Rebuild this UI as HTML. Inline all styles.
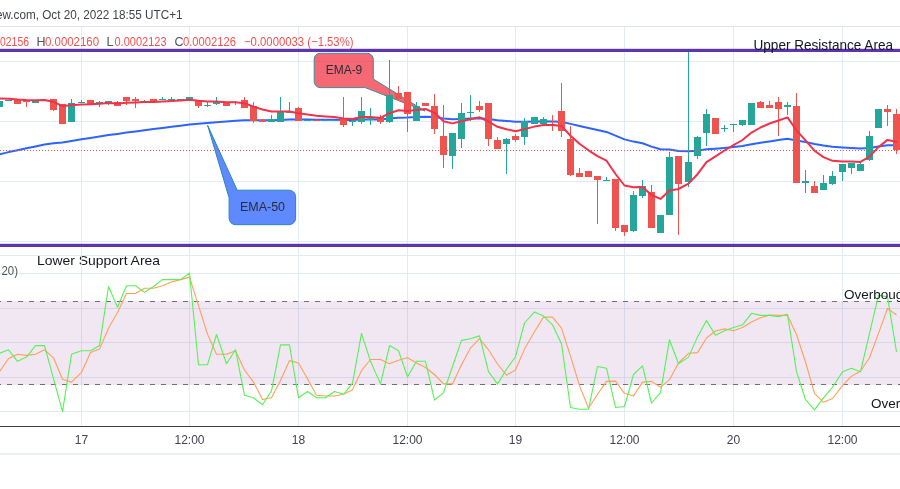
<!DOCTYPE html><html><head><meta charset="utf-8"><title>chart</title>
<style>html,body{margin:0;padding:0;background:#fff;overflow:hidden}svg{display:block}text{font-family:"Liberation Sans",sans-serif;}</style></head><body>
<svg width="900" height="489" viewBox="0 0 900 489">
<rect width="900" height="489" fill="#ffffff"/>
<rect x="0" y="26" width="900" height="1" fill="#e0e3eb"/>
<rect x="81" y="27" width="1" height="399" fill="#e1ecf2"/>
<rect x="189" y="27" width="1" height="399" fill="#e1ecf2"/>
<rect x="298" y="27" width="1" height="399" fill="#e1ecf2"/>
<rect x="407" y="27" width="1" height="399" fill="#e1ecf2"/>
<rect x="515" y="27" width="1" height="399" fill="#e1ecf2"/>
<rect x="624" y="27" width="1" height="399" fill="#e1ecf2"/>
<rect x="733" y="27" width="1" height="399" fill="#e1ecf2"/>
<rect x="842" y="27" width="1" height="399" fill="#e1ecf2"/>
<rect x="0" y="61" width="900" height="1" fill="#e1ecf2"/>
<rect x="0" y="121" width="900" height="1" fill="#e1ecf2"/>
<rect x="0" y="181" width="900" height="1" fill="#e1ecf2"/>
<rect x="0" y="241" width="900" height="1" fill="#e1ecf2"/>
<rect x="0" y="255" width="900" height="1" fill="#e1ecf2"/>
<rect x="0" y="273" width="900" height="1" fill="#e1ecf2"/>
<rect x="0" y="308" width="900" height="1" fill="#e1ecf2"/>
<rect x="0" y="342" width="900" height="1" fill="#e1ecf2"/>
<rect x="0" y="377" width="900" height="1" fill="#e1ecf2"/>
<rect x="0" y="411" width="900" height="1" fill="#e1ecf2"/>
<rect x="0" y="301" width="900" height="84" fill="#7e2f96" fill-opacity="0.115"/>
<line x1="0" y1="301.5" x2="900" y2="301.5" stroke="#707070" stroke-width="1.2" stroke-dasharray="5 6" stroke-dashoffset="4"/>
<line x1="0" y1="384.5" x2="900" y2="384.5" stroke="#707070" stroke-width="1.2" stroke-dasharray="5 6" stroke-dashoffset="4"/>
<path d="M-0.5,154.3 L8.5,152.1 L17.5,150.2 L26.5,148.3 L35.5,146.5 L44.5,144.6 L53.5,143.2 L62.5,142.4 L71.5,140.9 L81.5,139.3 L90.5,137.9 L99.5,136.5 L108.5,135.1 L117.5,133.9 L126.5,132.6 L135.5,131.4 L144.5,130.2 L153.5,129.1 L162.5,127.9 L171.5,126.8 L180.5,125.7 L189.5,124.5 L198.5,123.8 L207.5,123.0 L216.5,122.2 L226.5,121.5 L235.5,120.8 L244.5,120.3 L253.5,120.3 L262.5,120.3 L271.5,120.3 L280.5,119.9 L289.5,119.6 L298.5,119.6 L307.5,119.6 L316.5,119.7 L325.5,119.7 L334.5,119.7 L343.5,119.9 L352.5,119.9 L361.5,119.5 L370.5,119.4 L380.5,119.5 L389.5,118.5 L398.5,117.7 L407.5,117.6 L416.5,117.1 L425.5,116.7 L434.5,117.1 L443.5,118.6 L452.5,119.2 L461.5,118.9 L470.5,118.6 L479.5,118.3 L488.5,119.1 L497.5,120.2 L506.5,121.0 L515.5,121.7 L524.5,121.7 L534.5,121.5 L543.5,121.3 L552.5,121.5 L561.5,121.8 L570.5,123.9 L579.5,126.0 L588.5,127.9 L597.5,130.0 L606.5,131.9 L615.5,135.7 L624.5,139.4 L633.5,141.6 L642.5,143.3 L651.5,146.6 L660.5,149.3 L669.5,149.6 L678.5,150.9 L688.5,151.3 L697.5,150.8 L706.5,149.3 L715.5,148.7 L724.5,147.9 L733.5,146.9 L742.5,145.9 L751.5,144.2 L760.5,142.7 L769.5,141.4 L778.5,140.1 L787.5,138.7 L796.5,140.4 L805.5,142.0 L814.5,144.0 L823.5,145.5 L832.5,146.7 L842.5,147.4 L851.5,147.9 L860.5,148.6 L869.5,148.1 L878.5,146.5 L887.5,145.2 L896.5,145.3" fill="none" stroke="#2f63ff" stroke-width="2" stroke-linejoin="round" stroke-linecap="round"/>
<path d="M320.2,53.3 H367.3 a6,6 0 0 1 6,6 V79 L425,111 L365.2,87.6 H320.2 a6,6 0 0 1 -6,-6 V59.3 a6,6 0 0 1 6,-6 Z" fill="#f23645" fill-opacity="0.75" stroke="#3d8e9c" stroke-width="1"/>
<path d="M237.2,190.2 H289.1 a6.5,6.5 0 0 1 6.5,6.5 V218.2 a6.5,6.5 0 0 1 -6.5,6.5 H235.6 a6.5,6.5 0 0 1 -6.5,-6.5 V197.8 L207.6,125.3 Z" fill="#2962ff" fill-opacity="0.75" stroke="#2a86b8" stroke-width="1"/>
<rect x="-1" y="101" width="1" height="6" fill="#26a69a"/>
<rect x="-4" y="101" width="7" height="6" fill="#26a69a"/>
<rect x="8" y="100" width="1" height="1" fill="#26a69a"/>
<rect x="5" y="100" width="7" height="1" fill="#26a69a"/>
<rect x="17" y="100" width="1" height="4" fill="#ef5350"/>
<rect x="14" y="100" width="7" height="4" fill="#ef5350"/>
<rect x="26" y="100" width="1" height="7" fill="#ef5350"/>
<rect x="23" y="100" width="7" height="2" fill="#ef5350"/>
<rect x="35" y="101" width="1" height="2" fill="#26a69a"/>
<rect x="32" y="101" width="7" height="2" fill="#26a69a"/>
<rect x="44" y="100" width="1" height="1" fill="#26a69a"/>
<rect x="41" y="100" width="7" height="1" fill="#26a69a"/>
<rect x="53" y="99" width="1" height="12" fill="#ef5350"/>
<rect x="50" y="99" width="7" height="11" fill="#ef5350"/>
<rect x="62" y="104" width="1" height="20" fill="#ef5350"/>
<rect x="59" y="104" width="7" height="20" fill="#ef5350"/>
<rect x="71" y="99" width="1" height="23" fill="#26a69a"/>
<rect x="68" y="103" width="7" height="19" fill="#26a69a"/>
<rect x="81" y="100" width="1" height="3" fill="#26a69a"/>
<rect x="78" y="102" width="7" height="1" fill="#26a69a"/>
<rect x="90" y="100" width="1" height="4" fill="#ef5350"/>
<rect x="87" y="100" width="7" height="4" fill="#ef5350"/>
<rect x="99" y="101" width="1" height="6" fill="#26a69a"/>
<rect x="96" y="102" width="7" height="1" fill="#26a69a"/>
<rect x="108" y="101" width="1" height="4" fill="#26a69a"/>
<rect x="105" y="101" width="7" height="2" fill="#26a69a"/>
<rect x="117" y="101" width="1" height="5" fill="#ef5350"/>
<rect x="114" y="102" width="7" height="4" fill="#ef5350"/>
<rect x="126" y="97" width="1" height="8" fill="#ef5350"/>
<rect x="123" y="97" width="7" height="4" fill="#ef5350"/>
<rect x="135" y="97" width="1" height="11" fill="#ef5350"/>
<rect x="132" y="99" width="7" height="2" fill="#ef5350"/>
<rect x="144" y="100" width="1" height="2" fill="#26a69a"/>
<rect x="141" y="101" width="7" height="1" fill="#26a69a"/>
<rect x="153" y="99" width="1" height="3" fill="#ef5350"/>
<rect x="150" y="99" width="7" height="3" fill="#ef5350"/>
<rect x="162" y="97" width="1" height="3" fill="#26a69a"/>
<rect x="159" y="99" width="7" height="1" fill="#26a69a"/>
<rect x="171" y="97" width="1" height="3" fill="#26a69a"/>
<rect x="168" y="99" width="7" height="1" fill="#26a69a"/>
<rect x="180" y="99" width="1" height="1" fill="#26a69a"/>
<rect x="177" y="99" width="7" height="1" fill="#26a69a"/>
<rect x="189" y="97" width="1" height="2" fill="#26a69a"/>
<rect x="186" y="97" width="7" height="2" fill="#26a69a"/>
<rect x="198" y="100" width="1" height="8" fill="#ef5350"/>
<rect x="195" y="100" width="7" height="6" fill="#ef5350"/>
<rect x="207" y="102" width="1" height="5" fill="#26a69a"/>
<rect x="204" y="105" width="7" height="1" fill="#26a69a"/>
<rect x="216" y="97" width="1" height="8" fill="#26a69a"/>
<rect x="213" y="102" width="7" height="2" fill="#26a69a"/>
<rect x="226" y="102" width="1" height="4" fill="#ef5350"/>
<rect x="223" y="102" width="7" height="4" fill="#ef5350"/>
<rect x="235" y="101" width="1" height="4" fill="#26a69a"/>
<rect x="232" y="102" width="7" height="1" fill="#26a69a"/>
<rect x="244" y="97" width="1" height="11" fill="#ef5350"/>
<rect x="241" y="100" width="7" height="8" fill="#ef5350"/>
<rect x="253" y="102" width="1" height="21" fill="#ef5350"/>
<rect x="250" y="106" width="7" height="15" fill="#ef5350"/>
<rect x="262" y="119" width="1" height="3" fill="#ef5350"/>
<rect x="259" y="120" width="7" height="2" fill="#ef5350"/>
<rect x="271" y="115" width="1" height="7" fill="#26a69a"/>
<rect x="268" y="119" width="7" height="3" fill="#26a69a"/>
<rect x="280" y="97" width="1" height="25" fill="#26a69a"/>
<rect x="277" y="112" width="7" height="10" fill="#26a69a"/>
<rect x="289" y="102" width="1" height="11" fill="#26a69a"/>
<rect x="286" y="112" width="7" height="1" fill="#26a69a"/>
<rect x="298" y="107" width="1" height="14" fill="#ef5350"/>
<rect x="295" y="108" width="7" height="13" fill="#ef5350"/>
<rect x="307" y="120" width="1" height="1" fill="#26a69a"/>
<rect x="304" y="120" width="7" height="1" fill="#26a69a"/>
<rect x="316" y="119" width="1" height="2" fill="#ef5350"/>
<rect x="313" y="120" width="7" height="1" fill="#ef5350"/>
<rect x="325" y="119" width="1" height="2" fill="#26a69a"/>
<rect x="322" y="120" width="7" height="1" fill="#26a69a"/>
<rect x="334" y="120" width="1" height="1" fill="#26a69a"/>
<rect x="331" y="120" width="7" height="1" fill="#26a69a"/>
<rect x="343" y="97" width="1" height="30" fill="#ef5350"/>
<rect x="340" y="118" width="7" height="7" fill="#ef5350"/>
<rect x="352" y="120" width="1" height="6" fill="#26a69a"/>
<rect x="349" y="121" width="7" height="1" fill="#26a69a"/>
<rect x="361" y="97" width="1" height="27" fill="#26a69a"/>
<rect x="358" y="111" width="7" height="11" fill="#26a69a"/>
<rect x="370" y="108" width="1" height="17" fill="#26a69a"/>
<rect x="367" y="117" width="7" height="3" fill="#26a69a"/>
<rect x="380" y="115" width="1" height="9" fill="#ef5350"/>
<rect x="377" y="117" width="7" height="5" fill="#ef5350"/>
<rect x="389" y="60" width="1" height="63" fill="#26a69a"/>
<rect x="386" y="95" width="7" height="27" fill="#26a69a"/>
<rect x="398" y="86" width="1" height="15" fill="#ef5350"/>
<rect x="395" y="93" width="7" height="6" fill="#ef5350"/>
<rect x="407" y="92" width="1" height="40" fill="#ef5350"/>
<rect x="404" y="92" width="7" height="22" fill="#ef5350"/>
<rect x="416" y="102" width="1" height="19" fill="#26a69a"/>
<rect x="413" y="106" width="7" height="15" fill="#26a69a"/>
<rect x="425" y="103" width="1" height="3" fill="#ef5350"/>
<rect x="422" y="103" width="7" height="3" fill="#ef5350"/>
<rect x="434" y="94" width="1" height="40" fill="#ef5350"/>
<rect x="431" y="106" width="7" height="23" fill="#ef5350"/>
<rect x="443" y="105" width="1" height="63" fill="#ef5350"/>
<rect x="440" y="136" width="7" height="19" fill="#ef5350"/>
<rect x="452" y="133" width="1" height="36" fill="#26a69a"/>
<rect x="449" y="133" width="7" height="23" fill="#26a69a"/>
<rect x="461" y="103" width="1" height="45" fill="#26a69a"/>
<rect x="458" y="113" width="7" height="26" fill="#26a69a"/>
<rect x="470" y="95" width="1" height="26" fill="#26a69a"/>
<rect x="467" y="112" width="7" height="1" fill="#26a69a"/>
<rect x="479" y="101" width="1" height="11" fill="#ef5350"/>
<rect x="476" y="106" width="7" height="4" fill="#ef5350"/>
<rect x="488" y="103" width="1" height="43" fill="#ef5350"/>
<rect x="485" y="103" width="7" height="36" fill="#ef5350"/>
<rect x="497" y="137" width="1" height="12" fill="#ef5350"/>
<rect x="494" y="140" width="7" height="9" fill="#ef5350"/>
<rect x="506" y="138" width="1" height="36" fill="#26a69a"/>
<rect x="503" y="139" width="7" height="5" fill="#26a69a"/>
<rect x="515" y="134" width="1" height="8" fill="#ef5350"/>
<rect x="512" y="136" width="7" height="4" fill="#ef5350"/>
<rect x="524" y="118" width="1" height="27" fill="#26a69a"/>
<rect x="521" y="121" width="7" height="16" fill="#26a69a"/>
<rect x="534" y="117" width="1" height="7" fill="#26a69a"/>
<rect x="531" y="117" width="7" height="7" fill="#26a69a"/>
<rect x="543" y="117" width="1" height="7" fill="#26a69a"/>
<rect x="540" y="119" width="7" height="5" fill="#26a69a"/>
<rect x="552" y="115" width="1" height="16" fill="#ef5350"/>
<rect x="549" y="124" width="7" height="1" fill="#ef5350"/>
<rect x="561" y="83" width="1" height="54" fill="#ef5350"/>
<rect x="558" y="111" width="7" height="20" fill="#ef5350"/>
<rect x="570" y="126" width="1" height="50" fill="#ef5350"/>
<rect x="567" y="139" width="7" height="36" fill="#ef5350"/>
<rect x="579" y="168" width="1" height="9" fill="#ef5350"/>
<rect x="576" y="173" width="7" height="4" fill="#ef5350"/>
<rect x="588" y="171" width="1" height="6" fill="#ef5350"/>
<rect x="585" y="171" width="7" height="6" fill="#ef5350"/>
<rect x="597" y="176" width="1" height="48" fill="#ef5350"/>
<rect x="594" y="176" width="7" height="4" fill="#ef5350"/>
<rect x="606" y="177" width="1" height="4" fill="#26a69a"/>
<rect x="603" y="180" width="7" height="1" fill="#26a69a"/>
<rect x="615" y="179" width="1" height="52" fill="#ef5350"/>
<rect x="612" y="179" width="7" height="49" fill="#ef5350"/>
<rect x="624" y="225" width="1" height="11" fill="#ef5350"/>
<rect x="621" y="225" width="7" height="7" fill="#ef5350"/>
<rect x="633" y="191" width="1" height="41" fill="#26a69a"/>
<rect x="630" y="195" width="7" height="36" fill="#26a69a"/>
<rect x="642" y="180" width="1" height="18" fill="#26a69a"/>
<rect x="639" y="186" width="7" height="10" fill="#26a69a"/>
<rect x="651" y="185" width="1" height="43" fill="#ef5350"/>
<rect x="648" y="192" width="7" height="36" fill="#ef5350"/>
<rect x="660" y="215" width="1" height="18" fill="#26a69a"/>
<rect x="657" y="215" width="7" height="18" fill="#26a69a"/>
<rect x="669" y="152" width="1" height="63" fill="#26a69a"/>
<rect x="666" y="157" width="7" height="58" fill="#26a69a"/>
<rect x="678" y="156" width="1" height="79" fill="#ef5350"/>
<rect x="675" y="156" width="7" height="28" fill="#ef5350"/>
<rect x="688" y="50" width="1" height="137" fill="#26a69a"/>
<rect x="685" y="162" width="7" height="20" fill="#26a69a"/>
<rect x="697" y="136" width="1" height="23" fill="#26a69a"/>
<rect x="694" y="137" width="7" height="19" fill="#26a69a"/>
<rect x="706" y="109" width="1" height="37" fill="#26a69a"/>
<rect x="703" y="114" width="7" height="19" fill="#26a69a"/>
<rect x="715" y="118" width="1" height="16" fill="#ef5350"/>
<rect x="712" y="118" width="7" height="16" fill="#ef5350"/>
<rect x="724" y="125" width="1" height="7" fill="#26a69a"/>
<rect x="721" y="128" width="7" height="1" fill="#26a69a"/>
<rect x="733" y="124" width="1" height="8" fill="#26a69a"/>
<rect x="730" y="124" width="7" height="1" fill="#26a69a"/>
<rect x="742" y="120" width="1" height="6" fill="#26a69a"/>
<rect x="739" y="120" width="7" height="5" fill="#26a69a"/>
<rect x="751" y="103" width="1" height="22" fill="#26a69a"/>
<rect x="748" y="103" width="7" height="22" fill="#26a69a"/>
<rect x="760" y="101" width="1" height="7" fill="#ef5350"/>
<rect x="757" y="102" width="7" height="6" fill="#ef5350"/>
<rect x="769" y="101" width="1" height="7" fill="#ef5350"/>
<rect x="766" y="105" width="7" height="3" fill="#ef5350"/>
<rect x="778" y="97" width="1" height="39" fill="#ef5350"/>
<rect x="775" y="102" width="7" height="7" fill="#ef5350"/>
<rect x="787" y="102" width="1" height="13" fill="#26a69a"/>
<rect x="784" y="105" width="7" height="2" fill="#26a69a"/>
<rect x="796" y="93" width="1" height="90" fill="#ef5350"/>
<rect x="793" y="106" width="7" height="77" fill="#ef5350"/>
<rect x="805" y="170" width="1" height="23" fill="#26a69a"/>
<rect x="802" y="181" width="7" height="2" fill="#26a69a"/>
<rect x="814" y="181" width="1" height="12" fill="#ef5350"/>
<rect x="811" y="186" width="7" height="7" fill="#ef5350"/>
<rect x="823" y="175" width="1" height="15" fill="#26a69a"/>
<rect x="820" y="183" width="7" height="7" fill="#26a69a"/>
<rect x="832" y="171" width="1" height="14" fill="#26a69a"/>
<rect x="829" y="176" width="7" height="8" fill="#26a69a"/>
<rect x="842" y="164" width="1" height="17" fill="#26a69a"/>
<rect x="839" y="164" width="7" height="8" fill="#26a69a"/>
<rect x="851" y="163" width="1" height="11" fill="#26a69a"/>
<rect x="848" y="163" width="7" height="5" fill="#26a69a"/>
<rect x="860" y="162" width="1" height="9" fill="#26a69a"/>
<rect x="857" y="164" width="7" height="7" fill="#26a69a"/>
<rect x="869" y="131" width="1" height="30" fill="#26a69a"/>
<rect x="866" y="136" width="7" height="24" fill="#26a69a"/>
<rect x="878" y="109" width="1" height="19" fill="#26a69a"/>
<rect x="875" y="109" width="7" height="19" fill="#26a69a"/>
<rect x="887" y="105" width="1" height="21" fill="#ef5350"/>
<rect x="884" y="109" width="7" height="3" fill="#ef5350"/>
<rect x="896" y="109" width="1" height="45" fill="#ef5350"/>
<rect x="893" y="114" width="7" height="36" fill="#ef5350"/>
<line x1="0" y1="150.5" x2="900" y2="150.5" stroke="#ef5350" stroke-width="1" stroke-dasharray="1 2"/>
<path d="M-0.5,98.5 L8.5,98.7 L17.5,99.6 L26.5,100.1 L35.5,100.2 L44.5,99.9 L53.5,101.8 L62.5,106.1 L71.5,105.3 L81.5,104.5 L90.5,104.3 L99.5,103.7 L108.5,103.0 L117.5,103.5 L126.5,102.8 L135.5,102.4 L144.5,102.1 L153.5,102.1 L162.5,101.4 L171.5,100.9 L180.5,100.5 L189.5,99.7 L198.5,100.8 L207.5,101.5 L216.5,101.4 L226.5,102.2 L235.5,102.2 L244.5,103.2 L253.5,106.6 L262.5,109.5 L271.5,111.4 L280.5,111.4 L289.5,111.5 L298.5,113.2 L307.5,114.5 L316.5,115.7 L325.5,116.4 L334.5,117.0 L343.5,118.4 L352.5,118.9 L361.5,117.1 L370.5,117.1 L380.5,117.9 L389.5,113.2 L398.5,110.2 L407.5,111.0 L416.5,109.9 L425.5,109.0 L434.5,112.8 L443.5,121.2 L452.5,123.4 L461.5,121.2 L470.5,119.3 L479.5,117.3 L488.5,121.5 L497.5,126.8 L506.5,129.2 L515.5,131.3 L524.5,129.1 L534.5,126.6 L543.5,125.0 L552.5,125.0 L561.5,126.0 L570.5,135.7 L579.5,143.8 L588.5,150.3 L597.5,156.1 L606.5,160.7 L615.5,174.0 L624.5,185.5 L633.5,187.3 L642.5,186.9 L651.5,195.0 L660.5,198.9 L669.5,190.4 L678.5,189.0 L688.5,183.6 L697.5,174.2 L706.5,162.1 L715.5,156.3 L724.5,150.5 L733.5,145.2 L742.5,140.0 L751.5,132.6 L760.5,127.5 L769.5,123.5 L778.5,120.5 L787.5,117.4 L796.5,130.3 L805.5,140.4 L814.5,150.7 L823.5,157.1 L832.5,160.8 L842.5,161.4 L851.5,161.5 L860.5,161.9 L869.5,156.6 L878.5,147.1 L887.5,139.9 L896.5,141.8" fill="none" stroke="#f0324a" stroke-width="2" stroke-linejoin="round" stroke-linecap="round"/>
<path d="M-0.5,371.7 L8.5,358.5 L17.5,354.3 L26.5,355.4 L35.5,354.3 L44.5,349.8 L53.5,357.8 L62.5,379.3 L71.5,382.1 L81.5,372.4 L90.5,352.6 L99.5,349.1 L108.5,328.2 L117.5,312.6 L126.5,293.5 L135.5,293.5 L144.5,288.2 L153.5,288.2 L162.5,285.8 L171.5,282.0 L180.5,279.6 L189.5,277.1 L198.5,305.6 L207.5,334.1 L216.5,354.3 L226.5,354.3 L235.5,350.8 L244.5,370.0 L253.5,382.1 L262.5,399.5 L271.5,397.8 L280.5,380.4 L289.5,360.6 L298.5,363.0 L307.5,378.7 L316.5,395.3 L325.5,396.0 L334.5,396.0 L343.5,394.3 L352.5,389.8 L361.5,370.7 L370.5,359.5 L380.5,359.5 L389.5,363.7 L398.5,360.2 L407.5,357.8 L416.5,363.0 L425.5,367.5 L434.5,374.5 L443.5,383.9 L452.5,383.9 L461.5,364.7 L470.5,348.1 L479.5,338.7 L488.5,349.8 L497.5,364.0 L506.5,375.2 L515.5,370.0 L524.5,349.1 L534.5,331.7 L543.5,317.1 L552.5,317.1 L561.5,328.2 L570.5,356.1 L579.5,385.6 L588.5,408.2 L597.5,394.3 L606.5,381.4 L615.5,381.1 L624.5,393.3 L633.5,396.0 L642.5,382.1 L651.5,381.4 L660.5,387.3 L669.5,379.7 L678.5,363.0 L688.5,353.3 L697.5,352.6 L706.5,338.0 L715.5,331.0 L724.5,328.9 L733.5,330.7 L742.5,327.5 L751.5,322.0 L760.5,317.8 L769.5,315.0 L778.5,315.4 L787.5,315.4 L796.5,334.5 L805.5,362.0 L814.5,393.3 L823.5,402.3 L832.5,398.5 L842.5,385.6 L851.5,376.2 L860.5,371.0 L869.5,357.8 L878.5,333.4 L887.5,308.4 L896.5,315.0" fill="none" stroke="#ffa05a" stroke-width="1.1" stroke-linejoin="round"/>
<path d="M-0.5,353.3 L8.5,349.8 L17.5,361.3 L26.5,357.1 L35.5,345.6 L44.5,345.6 L53.5,378.7 L62.5,411.7 L71.5,354.3 L81.5,350.8 L90.5,350.8 L99.5,345.6 L108.5,286.5 L117.5,307.4 L126.5,285.8 L135.5,285.8 L144.5,292.4 L153.5,286.5 L162.5,279.6 L171.5,279.6 L180.5,279.6 L189.5,273.3 L198.5,364.7 L207.5,364.7 L216.5,334.5 L226.5,363.7 L235.5,349.8 L244.5,395.3 L253.5,397.8 L262.5,404.7 L271.5,390.8 L280.5,344.9 L289.5,344.9 L298.5,397.8 L307.5,391.5 L316.5,397.8 L325.5,397.8 L334.5,391.5 L343.5,394.3 L352.5,383.2 L361.5,333.4 L370.5,361.3 L380.5,383.9 L389.5,345.6 L398.5,350.8 L407.5,376.9 L416.5,361.3 L425.5,361.3 L434.5,400.2 L443.5,392.6 L452.5,366.5 L461.5,340.4 L470.5,338.7 L479.5,335.9 L488.5,371.7 L497.5,383.9 L506.5,369.3 L515.5,356.7 L524.5,323.0 L534.5,311.9 L543.5,316.1 L552.5,324.8 L561.5,343.9 L570.5,407.5 L579.5,409.2 L588.5,409.2 L597.5,366.5 L606.5,368.2 L615.5,407.5 L624.5,406.5 L633.5,374.5 L642.5,365.8 L651.5,403.0 L660.5,392.6 L669.5,339.7 L678.5,363.7 L688.5,357.1 L697.5,336.9 L706.5,320.6 L715.5,335.2 L724.5,330.7 L733.5,327.5 L742.5,324.8 L751.5,313.3 L760.5,315.4 L769.5,315.4 L778.5,316.8 L787.5,314.3 L796.5,371.7 L805.5,399.5 L814.5,409.9 L823.5,397.8 L832.5,387.3 L842.5,371.7 L851.5,368.2 L860.5,371.7 L869.5,333.4 L878.5,295.2 L887.5,296.9 L896.5,351.9" fill="none" stroke="#56f256" stroke-width="1.1" stroke-linejoin="round"/>
<rect x="0" y="48.8" width="900" height="3.2" fill="#5e35b1"/>
<rect x="0" y="243.8" width="900" height="3.2" fill="#5e35b1"/>
<rect x="0" y="426" width="900" height="1" fill="#3a3e4a"/>
<rect x="0" y="453" width="900" height="2" fill="#ebeef3"/>
<defs><mask id="tm"><rect width="900" height="489" fill="#fff"/></mask></defs><g mask="url(#tm)">
<text x="325.7" y="73.9" font-size="13" fill="#2a2e39" textLength="36.6" lengthAdjust="spacingAndGlyphs">EMA-9</text>
<text x="240" y="210.7" font-size="13" fill="#2a2e39" textLength="45" lengthAdjust="spacingAndGlyphs">EMA-50</text>
<text x="753.5" y="49.7" font-size="14" fill="#131722" textLength="139.5" lengthAdjust="spacingAndGlyphs">Upper Resistance Area</text>
<text x="37" y="265" font-size="13.5" fill="#131722" textLength="123" lengthAdjust="spacingAndGlyphs">Lower Support Area</text>
<text x="844" y="299" font-size="13.5" fill="#131722">Overbought</text>
<text x="871" y="408" font-size="13.5" fill="#131722">Oversold</text>
<text x="1.5" y="275" font-size="12.5" fill="#50535e" textLength="16.5" lengthAdjust="spacingAndGlyphs">20)</text>
<text x="-4" y="19" font-size="13" fill="#40434e" textLength="186.5" lengthAdjust="spacingAndGlyphs">ew.com, Oct 20, 2022 18:55 UTC+1</text>
<text x="0" y="45.5" font-size="12.5" fill="#ef5350" textLength="29" lengthAdjust="spacingAndGlyphs">02156</text>
<text x="36.5" y="45.5" font-size="12.5" fill="#50535e">H</text>
<text x="45" y="45.5" font-size="12.5" fill="#ef5350" textLength="54" lengthAdjust="spacingAndGlyphs">0.0002160</text>
<text x="106.5" y="45.5" font-size="12.5" fill="#50535e">L</text>
<text x="114.5" y="45.5" font-size="12.5" fill="#ef5350" textLength="52" lengthAdjust="spacingAndGlyphs">0.0002123</text>
<text x="174.5" y="45.5" font-size="12.5" fill="#50535e">C</text>
<text x="183" y="45.5" font-size="12.5" fill="#ef5350" textLength="53" lengthAdjust="spacingAndGlyphs">0.0002126</text>
<text x="244" y="45.5" font-size="12.5" fill="#ef5350" textLength="109.5" lengthAdjust="spacingAndGlyphs">−0.0000033 (−1.53%)</text>
<text x="81.5" y="444" font-size="12" fill="#40434e" text-anchor="middle">17</text>
<text x="189.5" y="444" font-size="12" fill="#40434e" text-anchor="middle">12:00</text>
<text x="298.5" y="444" font-size="12" fill="#40434e" text-anchor="middle">18</text>
<text x="407.5" y="444" font-size="12" fill="#40434e" text-anchor="middle">12:00</text>
<text x="515.5" y="444" font-size="12" fill="#40434e" text-anchor="middle">19</text>
<text x="624.5" y="444" font-size="12" fill="#40434e" text-anchor="middle">12:00</text>
<text x="733.5" y="444" font-size="12" fill="#40434e" text-anchor="middle">20</text>
<text x="842.5" y="444" font-size="12" fill="#40434e" text-anchor="middle">12:00</text>
</g>
<rect x="81" y="256" width="1" height="14" fill="#e1ecf2" fill-opacity="0.8"/>
</svg></body></html>
